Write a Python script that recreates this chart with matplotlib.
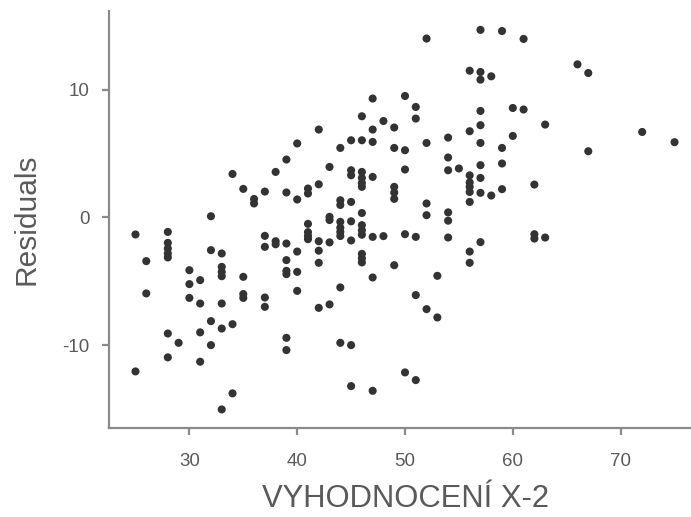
import matplotlib
matplotlib.use("Agg")
import matplotlib.pyplot as plt

plt.rcParams['font.family'] = ['Liberation Sans', 'DejaVu Sans']

# x values (VYHODNOCENÍ X-2) and residuals, grouped by x
groups = {
    25: [-1.33, -12.06],
    26: [-3.42, -5.95],
    28: [-1.13, -1.99, -2.43, -2.82, -3.13, -9.09, -10.96],
    29: [-9.82],
    30: [-4.13, -5.22, -6.3],
    31: [-4.91, -6.74, -9.0, -11.3],
    32: [0.1, -2.56, -8.12, -10.0],
    33: [-2.82, -3.87, -4.26, -4.6, -6.74, -8.7, -15.04],
    34: [3.41, -8.36, -13.78],
    35: [2.24, -4.65, -6.0, -6.3],
    36: [1.1, 1.45],
    37: [2.03, -1.44, -2.3, -6.27, -7.0],
    38: [3.57, -1.86, -2.1],
    39: [4.54, 1.96, -2.04, -3.34, -4.18, -4.44, -9.43, -10.39],
    40: [5.8, 1.41, -2.67, -4.26, -5.75],
    41: [2.27, 1.88, -0.5, -1.15, -1.45, -1.7],
    42: [6.89, 2.6, -1.86, -2.6, -3.55, -7.08],
    43: [3.96, 0.05, -0.2, -1.95, -6.81],
    44: [5.45, 1.35, 0.98, -0.34, -0.8, -1.13, -1.45, -5.48, -9.82],
    45: [6.05, 3.7, 3.31, 1.22, -0.3, -1.8, -10.0, -13.21],
    46: [7.93, 6.05, 3.57, 3.1, 2.7, 2.4, 0.35, -0.6, -1.0, -1.35, -2.85, -3.2, -3.52],
    47: [9.32, 6.89, 5.92, 3.18, -1.52, -4.7, -13.58],
    48: [7.56, -1.46],
    49: [7.05, 5.45, 2.4, 1.95, 1.46, -3.74],
    50: [9.52, 5.27, 3.76, -1.31, -12.14],
    51: [8.66, 7.75, -1.52, -6.08, -12.74],
    52: [14.02, 5.84, 1.1, 0.18, -7.18],
    53: [-4.57, -7.83],
    54: [6.26, 4.7, 3.7, 0.4, -0.25, -1.57],
    55: [3.84],
    56: [11.5, 6.76, 3.3, 2.75, 2.4, 2.0, 1.22, -2.67, -3.55],
    57: [14.7, 11.4, 10.8, 8.35, 7.23, 5.84, 4.1, 3.1, 1.93, -1.93],
    58: [11.06, 1.72],
    59: [14.61, 5.45, 4.23, 2.22],
    60: [8.58, 6.39],
    61: [13.99, 8.46],
    62: [2.58, -1.31, -1.65],
    63: [7.28, -1.57],
    66: [12.0],
    67: [11.32, 5.19],
    72: [6.7],
    75: [5.9],
}
x_vals = [x for x, ys in groups.items() for _ in ys]
residuals = [y for ys in groups.values() for y in ys]

x_ticks = [30, 40, 50, 60, 70]
y_ticks = [-10, 0, 10]

fig = plt.figure(figsize=(6.91, 5.17), dpi=100)
ax = fig.add_axes([0.158, 0.172, 0.84, 0.807])
ax.scatter(x_vals, residuals, s=34, color='#333333', edgecolors='none', zorder=3)

ax.set_xlim(22.56, 76.4)
ax.set_ylim(-16.5, 16.19)
ax.set_xticks(x_ticks)
ax.set_yticks(y_ticks)
ax.set_xticklabels([str(t) for t in x_ticks])
ax.set_yticklabels([str(t) for t in y_ticks])

for s in ['top', 'right']:
    ax.spines[s].set_visible(False)
for s in ['left', 'bottom']:
    ax.spines[s].set_color('#8a8a8a')
    ax.spines[s].set_linewidth(1.6)
ax.tick_params(axis='both', colors='#8a8a8a', length=5, width=1.6,
               labelsize=13.5, labelcolor='#5a5a5a')
ax.tick_params(axis='x', pad=13)
ax.tick_params(axis='y', pad=9)

ax.set_xlabel('VYHODNOCENÍ X-2', fontsize=22.3, color='#5a5a5a')
ax.xaxis.set_label_coords(0.51, -0.135)
ax.set_ylabel('Residuals', fontsize=21.5, color='#5a5a5a', labelpad=16)

fig.savefig('out.png', dpi=100)
